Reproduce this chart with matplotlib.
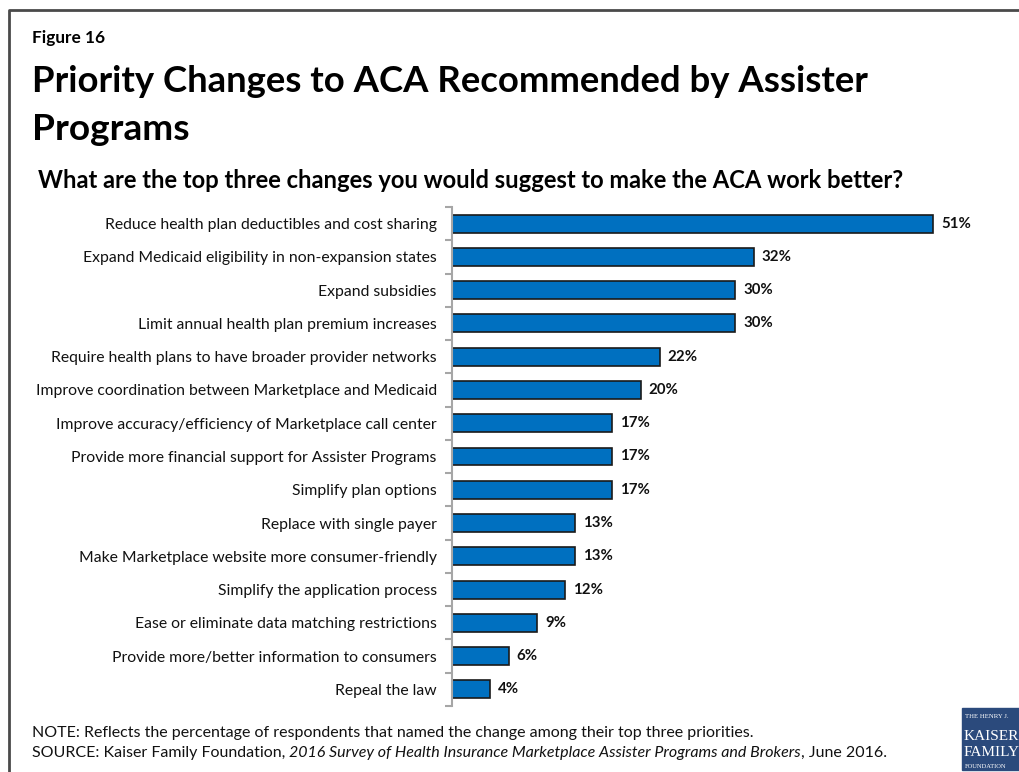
import matplotlib
matplotlib.use('Agg')
import matplotlib.pyplot as plt
from matplotlib.patches import Rectangle
from matplotlib.lines import Line2D

plt.rcParams['font.family'] = ['Lato', 'DejaVu Sans']

categories = [
    'Reduce health plan deductibles and cost sharing',
    'Expand Medicaid eligibility in non-expansion states',
    'Expand subsidies',
    'Limit annual health plan premium increases',
    'Require health plans to have broader provider networks',
    'Improve coordination between Marketplace and Medicaid',
    'Improve accuracy/efficiency of Marketplace call center',
    'Provide more financial support for Assister Programs',
    'Simplify plan options',
    'Replace with single payer',
    'Make Marketplace website more consumer-friendly',
    'Simplify the application process',
    'Ease or eliminate data matching restrictions',
    'Provide more/better information to consumers',
    'Repeal the law',
]
values = [51, 32, 30, 30, 22, 20, 17, 17, 17, 13, 13, 12, 9, 6, 4]

W, H = 1020, 772
fig = plt.figure(figsize=(W / 100, H / 100), dpi=100)
fig.patch.set_facecolor('white')


def px(x, y):
    # pixel position (from top-left) -> figure fraction
    return x / W, 1 - y / H


def fit_text(x, y, s, width, size=20, **kw):
    t = fig.text(*px(x, y), s, fontsize=size, **kw)
    r = fig.canvas.get_renderer()
    w = t.get_window_extent(r).width
    t.set_fontsize(size * width / w)
    return t


# frame lines on left and top
fig.add_artist(Line2D([9 / W, 9 / W, 1], [0, 1 - 10 / H, 1 - 10 / H],
                      transform=fig.transFigure, color='#4a4a4a', lw=2))

fit_text(32, 38, 'Figure 16', 73, weight='bold', va='center')
fit_text(32, 82, 'Priority Changes to ACA Recommended by Assister', 838,
         weight='bold', va='center')
fit_text(32, 129, 'Programs', 157, weight='bold', va='center')
fit_text(38, 180, 'What are the top three changes you would suggest to make '
         'the ACA work better?', 865, weight='bold', va='center')

# bar panel
left, right, top, bottom = 452, 1018, 207, 706
ax = fig.add_axes([left / W, 1 - bottom / H, (right - left) / W,
                   (bottom - top) / H])
y = list(range(len(categories)))
ax.barh(y, values, height=0.54, color='#0070C0', edgecolor='#1a1a1a',
        linewidth=1.2)
ax.set_ylim(len(categories) - 0.5, -0.5)
ax.set_xlim(0, 60)
for yi, v in zip(y, values):
    ax.text(v + 0.85, yi, f'{v}%', va='center', ha='left', fontsize=10.8,
            weight='bold', color='#111111')

ax.set_yticks(y)
ax.set_yticklabels(categories, fontsize=11.3, color='#111111')
ax.set_yticks([i - 0.5 for i in range(len(categories) + 1)], minor=True)
ax.tick_params(axis='y', which='major', length=0, pad=11)
ax.tick_params(axis='y', which='minor', length=5, width=1.5,
               color='#a6a6a6')
ax.set_xticks([])
for s in ['top', 'right', 'bottom']:
    ax.spines[s].set_visible(False)
ax.spines['left'].set_color('#a6a6a6')
ax.spines['left'].set_linewidth(1.5)

# footnotes
fs = 11.5
fig.text(*px(32, 733), 'NOTE: Reflects the percentage of respondents that '
         'named the change among their top three priorities.',
         fontsize=fs, va='center', color='#111111')
src = fig.text(*px(32, 753), 'SOURCE: Kaiser Family Foundation, ',
               fontsize=fs, va='center', color='#111111')
r = fig.canvas.get_renderer()
x2 = 32 + src.get_window_extent(r).width
src2 = fig.text(*px(x2, 753), '2016 Survey of Health Insurance Marketplace '
                'Assister Programs and Brokers', fontsize=fs,
                style='italic', va='center', color='#111111')
x3 = x2 + src2.get_window_extent(r).width
fig.text(*px(x3, 753), ', June 2016.', fontsize=fs, va='center',
         color='#111111')

# foundation logo
fig.add_artist(Rectangle(px(962, 770), 60 / W, 62 / H,
                         transform=fig.transFigure, color='#2b4a7c'))
serif = ['Liberation Serif', 'DejaVu Serif']
fig.text(*px(965, 717), 'THE HENRY J.', family=serif, fontsize=4.9,
         color='white', va='center')
fig.text(*px(964, 736), 'KAISER', family=serif, fontsize=11,
         color='white', va='center')
fig.text(*px(964, 753), 'FAMILY', family=serif, fontsize=11,
         color='white', va='center')
fig.text(*px(965, 766), 'FOUNDATION', family=serif, fontsize=4.7,
         color='white', va='center')

fig.savefig('out.png', dpi=100, facecolor='white')
